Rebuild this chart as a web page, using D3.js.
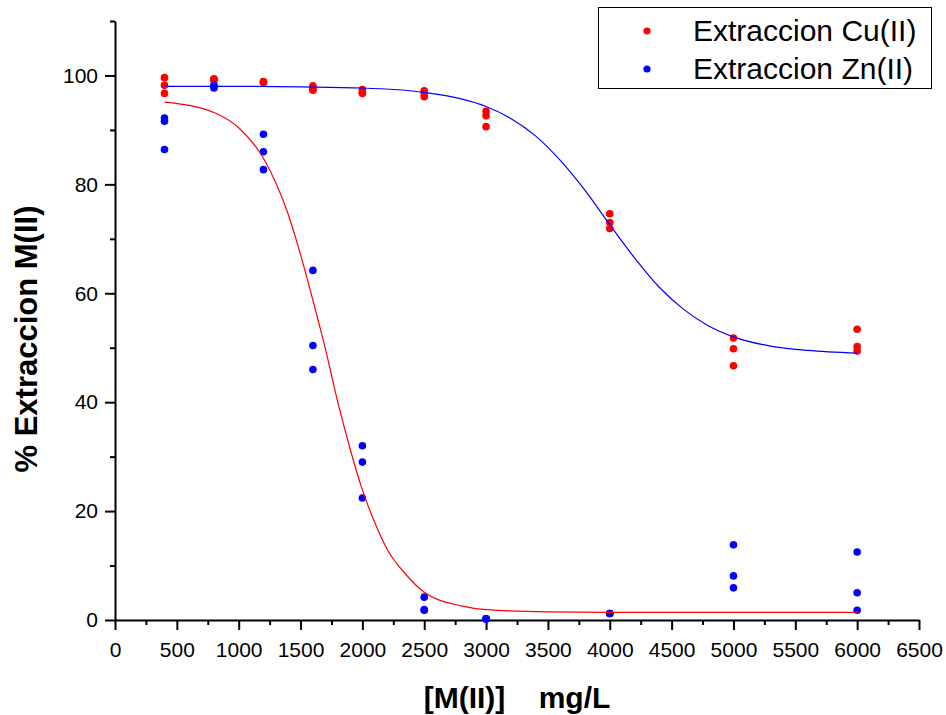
<!DOCTYPE html>
<html lang="en">
<head>
  <meta charset="UTF-8">
  <title>Extraccion M(II)</title>
  <style>
    body, html {
      margin: 0;
      background-color: white;
    }
    text {
      font-family: "Liberation Sans", Arial, sans-serif;
    }
  </style>
</head>
<body>
  <svg id="svg" width="946" height="715"></svg>
  <script src="https://d3js.org/d3.v7.min.js"></script>
  <script>
    // concentration levels (mg/L)
    const concentrations = [400, 800, 1200, 1600, 2000, 2500, 3000, 4000, 5000, 6000]
    // three replicates per level
    const cuValues = [
      [99.6, 98.2, 96.7], [99.4, 99.1, 99.3], [98.9, 98.7, 98.8], [98.1, 97.6, 97.3],
      [97.4, 96.9, 96.7], [97.2, 96.6, 96.1], [93.4, 92.6, 90.6], [74.6, 73.0, 71.9],
      [51.8, 49.8, 46.7], [53.4, 50.2, 49.4]
    ]
    const znValues = [
      [92.2, 91.6, 86.4], [98.0, 97.7, 98.2], [89.2, 86.0, 82.7], [64.2, 50.4, 46.0],
      [32.0, 29.0, 22.4], [4.2, 1.9, 1.8], [0.2, 0.2, 0.2], [1.2, 1.2, 1.2],
      [13.8, 8.1, 5.9], [12.5, 5.0, 1.8]
    ]
    // fitted curves, points
    const znFitX = [400, 800, 1000, 1200, 1400, 1500, 1600, 1700, 1800, 1900, 2000, 2100, 2200, 2350, 2500, 2800, 3000, 3500, 4000, 5000, 6000]
    const znFitY = [95.1, 93.2, 90.4, 84.8, 74.5, 67.1, 58.7, 49.9, 40.1, 31.5, 23.9, 17.9, 13.0, 8.4, 5.1, 2.6, 1.9, 1.5, 1.4, 1.4, 1.4]
    const cuFitX = [400, 1000, 1500, 2000, 2500, 2800, 3000, 3200, 3400, 3600, 3800, 4000, 4200, 4400, 4600, 4800, 5000, 5300, 5600, 6000]
    const cuFitY = [98.0, 98.0, 97.9, 97.7, 96.9, 95.7, 94.3, 92.1, 88.9, 84.4, 78.9, 72.6, 66.5, 61.1, 57.0, 54.0, 52.0, 50.3, 49.5, 49.0]

    const xMajor = d3.range(0, 6501, 500)
    const xMinor = d3.range(250, 6500, 500)
    const yMajor = [0, 20, 40, 60, 80, 100]
    const yMinor = [10, 30, 50, 70, 90, 110]

    const legendLabels = ['Extraccion Cu(II)', 'Extraccion Zn(II)']
    const colors = ['#ff0000', '#0000ff']

    const plotLeft = 115, plotRight = 919, plotTop = 21, plotBottom = 620

    const xScale = d3.scaleLinear().domain([0, 6500]).range([plotLeft, plotRight])
    const yScale = d3.scaleLinear().domain([0, 110]).range([plotBottom, plotTop])

    const svg = d3.select('#svg')

    // axes
    svg.append('g')
      .attr('transform', `translate(0, ${plotBottom})`)
      .call(d3.axisBottom(xScale).tickValues(xMajor).tickSize(10).tickSizeOuter(0).tickPadding(12).tickFormat(d3.format('d')))
    svg.append('g')
      .attr('transform', `translate(0, ${plotBottom})`)
      .call(d3.axisBottom(xScale).tickValues(xMinor).tickSize(5).tickSizeOuter(0).tickFormat(''))
      .select('.domain').remove()

    svg.append('g')
      .attr('transform', `translate(${plotLeft}, 0)`)
      .call(d3.axisLeft(yScale).tickValues(yMajor).tickSize(10).tickSizeOuter(0).tickPadding(7))
    svg.append('g')
      .attr('transform', `translate(${plotLeft}, 0)`)
      .call(d3.axisLeft(yScale).tickValues(yMinor).tickSize(5).tickSizeOuter(0).tickFormat(''))
      .select('.domain').remove()

    svg.selectAll('.domain, .tick line')
      .attr('stroke', '#000')
      .attr('stroke-width', 2)
    svg.selectAll('.tick text')
      .attr('fill', '#000')
      .style('font-size', '21px')
      .style('font-family', '"Liberation Sans", Arial, sans-serif')

    // axis titles
    svg.append('text')
      .attr('transform', 'translate(37, 339) rotate(-90)')
      .attr('text-anchor', 'middle')
      .style('font-size', '31px')
      .style('font-weight', 'bold')
      .text('% Extraccion M(II)')

    svg.append('text')
      .attr('x', 517)
      .attr('y', 708)
      .attr('text-anchor', 'middle')
      .style('font-size', '30px')
      .style('font-weight', 'bold')
      .style('white-space', 'pre')
      .text('[M(II)]    mg/L')

    // points
    const flatten = values => concentrations.flatMap((c, i) => values[i].map(v => ({ x: c, y: v })))
    const series = [flatten(cuValues), flatten(znValues)]

    series.forEach((pts, i) => {
      svg.append('g')
        .selectAll('circle')
        .data(pts)
        .enter()
        .append('circle')
        .attr('cx', d => xScale(d.x))
        .attr('cy', d => yScale(d.y))
        .attr('r', 3.8)
        .attr('fill', colors[i])
    })

    // fit lines (red fit through Zn data, blue fit through Cu data)
    const line = d3.line()
      .x(d => xScale(d[0]))
      .y(d => yScale(d[1]))
      .curve(d3.curveMonotoneX)

    svg.append('path')
      .datum(znFitX.map((x, i) => [x, znFitY[i]]))
      .attr('d', line)
      .attr('fill', 'none')
      .attr('stroke', colors[0])
      .attr('stroke-width', 1.2)

    svg.append('path')
      .datum(cuFitX.map((x, i) => [x, cuFitY[i]]))
      .attr('d', line)
      .attr('fill', 'none')
      .attr('stroke', colors[1])
      .attr('stroke-width', 1.2)

    // legend
    const legend = svg.append('g')
    legend.append('rect')
      .attr('x', 598.5)
      .attr('y', 7.5)
      .attr('width', 333)
      .attr('height', 81)
      .attr('fill', 'white')
      .attr('stroke', '#000')
      .attr('stroke-width', 1)
    legendLabels.forEach((label, i) => {
      legend.append('circle')
        .attr('cx', 647)
        .attr('cy', 31 + i * 38)
        .attr('r', 3.6)
        .attr('fill', colors[i])
      legend.append('text')
        .attr('x', 693)
        .attr('y', 41 + i * 38)
        .style('font-size', '30px')
        .text(label)
    })
  </script>
</body>
</html>
